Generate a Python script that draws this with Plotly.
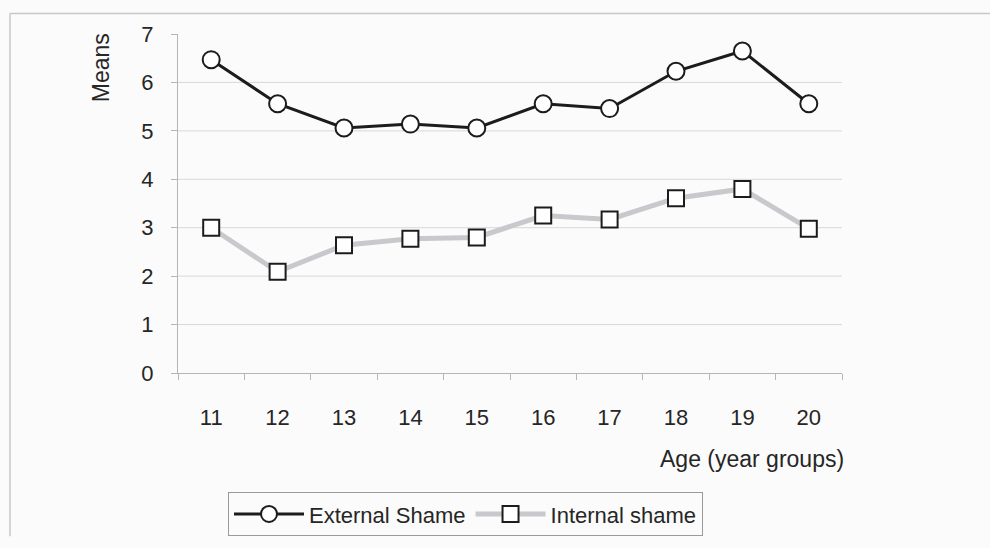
import plotly.graph_objects as go

# Age groups and mean shame scores
ages = ["11", "12", "13", "14", "15", "16", "17", "18", "19", "20"]
external_shame = [6.47, 5.56, 5.06, 5.14, 5.06, 5.56, 5.46, 6.23, 6.65, 5.56]
internal_shame = [3.0, 2.09, 2.64, 2.77, 2.80, 3.25, 3.17, 3.61, 3.80, 2.98]
y_ticks = [0, 1, 2, 3, 4, 5, 6, 7]

W, H = 990, 548
L, R, T, B = 178, 842, 34, 381  # plot area in pixels


def px(x):
    return (x - L) / (R - L)


def py(y):
    return (B - y) / (B - T)


FONT = "Liberation Sans, Arial, sans-serif"
TXT = "#262626"

fig = go.Figure()
fig.add_trace(go.Scatter(
    x=ages, y=external_shame, name="External Shame", mode="lines+markers",
    line=dict(color="#1c1c1c", width=3),
    marker=dict(symbol="circle", size=17, color="white",
                line=dict(color="#1c1c1c", width=2)),
))
fig.add_trace(go.Scatter(
    x=ages, y=internal_shame, name="Internal shame", mode="lines+markers",
    line=dict(color="#c9c9cd", width=5),
    marker=dict(symbol="square", size=16, color="white",
                line=dict(color="#1c1c1c", width=2)),
))

# horizontal gridlines (none at the top value)
shapes = []
for v in y_ticks[1:-1]:
    shapes.append(dict(type="line", xref="paper", yref="y", x0=0, x1=1, y0=v, y1=v,
                       line=dict(color="#d8d8d8", width=1), layer="below"))
# outer frame of the chart (top and left edges)
shapes.append(dict(type="line", xref="paper", yref="paper", x0=px(10), x1=px(990),
                   y0=py(13), y1=py(13), line=dict(color="#c8c8c8", width=1.5)))
shapes.append(dict(type="line", xref="paper", yref="paper", x0=px(10), x1=px(10),
                   y0=py(13), y1=py(548), line=dict(color="#c8c8c8", width=1.5)))

fig.update_layout(
    width=W, height=H,
    margin=dict(l=L, r=W - R, t=T, b=H - B, pad=0),
    paper_bgcolor="#fbfbfb", plot_bgcolor="#fbfbfb",
    font=dict(family=FONT, size=22, color=TXT),
    shapes=shapes,
    showlegend=True,
    legend=dict(orientation="h", x=px(228), y=py(503), xanchor="left", yanchor="top",
                bgcolor="#fbfbfb", bordercolor="#9a9a9a", borderwidth=1,
                font=dict(family=FONT, size=22, color=TXT),
                itemwidth=70, tracegroupgap=0),
    annotations=[
        dict(text="Age (year groups)", xref="paper", yref="paper", x=px(846), y=py(469),
             xanchor="right", yanchor="middle", showarrow=False,
             font=dict(family=FONT, size=23, color=TXT)),
        dict(text="Means", xref="paper", yref="paper", x=px(101), y=py(69),
             xanchor="center", yanchor="middle", textangle=-90, showarrow=False,
             font=dict(family=FONT, size=23, color=TXT)),
    ],
)

fig.update_xaxes(
    type="category", range=[-0.5, len(ages) - 0.5], tickson="boundaries",
    ticks="outside", ticklen=6, tickcolor="#b5b5b5", tickwidth=1,
    showline=True, linecolor="#b5b5b5", linewidth=1, showgrid=False,
    tickfont=dict(family=FONT, size=22, color=TXT), ticklabelstandoff=25,
    zeroline=False,
)
fig.update_yaxes(
    range=[0, 7], tickvals=y_ticks, ticks="outside", ticklen=6, tickcolor="#b5b5b5",
    showline=True, linecolor="#b5b5b5", linewidth=1, showgrid=False, zeroline=False,
    tickfont=dict(family=FONT, size=22, color=TXT), ticklabelstandoff=13,
)

fig.write_html("out.html")
